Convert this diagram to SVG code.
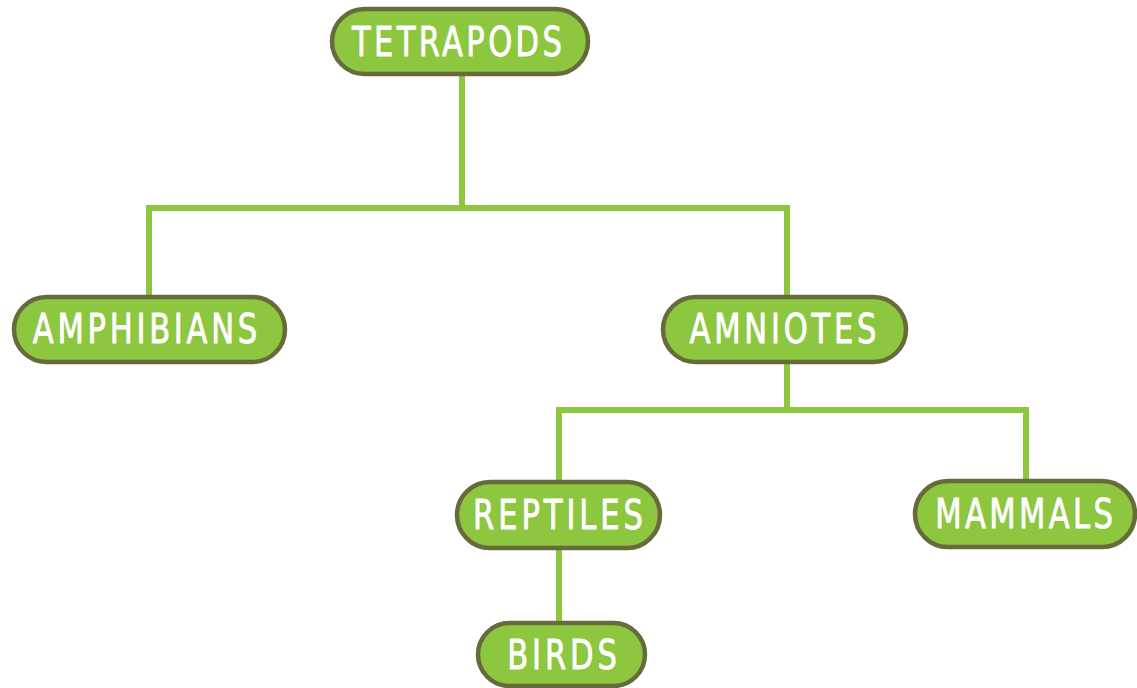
<svg xmlns="http://www.w3.org/2000/svg" width="1137" height="688" viewBox="0 0 1137 688">
<style>
.box{fill:#8dc63f;stroke:#676a3b;stroke-width:4.5}
.lbl{fill:#ffffff;stroke:#ffffff;stroke-width:0.8;font-family:"DejaVu Sans Condensed","DejaVu Sans",sans-serif;font-size:40px;text-anchor:middle}
.ln{fill:none;stroke:#8dc63f;stroke-width:6;stroke-linejoin:miter;stroke-linecap:butt}
</style>
<rect width="1137" height="688" fill="#ffffff"/>
<g id="connectors">
<path class="ln" d="M462,75 V208 M149,297 V208 H787 V297"/>
<path class="ln" d="M787,362 V410 M559,482 V410 H1026 V481"/>
<path class="ln" d="M559,548 V623"/>
</g>
<g id="tetrapods">
<rect class="box" x="332" y="9" width="256" height="65" rx="32.5"/>
<text class="lbl" transform="translate(457,56) scale(0.85,1)" x="0" y="0" textLength="247" lengthAdjust="spacing">TETRAPODS</text>
</g>
<g id="amphibians">
<rect class="box" x="14" y="297" width="271" height="65" rx="32.5"/>
<text class="lbl" transform="translate(145,343) scale(0.85,1)" x="0" y="0" textLength="264" lengthAdjust="spacing">AMPHIBIANS</text>
</g>
<g id="amniotes">
<rect class="box" x="663" y="297" width="243" height="65" rx="32.5"/>
<text class="lbl" transform="translate(783,343) scale(0.85,1)" x="0" y="0" textLength="220" lengthAdjust="spacing">AMNIOTES</text>
</g>
<g id="reptiles">
<rect class="box" x="457" y="482" width="203" height="66" rx="33"/>
<text class="lbl" transform="translate(558,529) scale(0.85,1)" x="0" y="0" textLength="200" lengthAdjust="spacing">REPTILES</text>
</g>
<g id="mammals">
<rect class="box" x="915" y="481" width="220" height="66" rx="33"/>
<text class="lbl" transform="translate(1024,528) scale(0.85,1)" x="0" y="0" textLength="209" lengthAdjust="spacing">MAMMALS</text>
</g>
<g id="birds">
<rect class="box" x="478" y="623" width="167" height="63" rx="31.5"/>
<text class="lbl" transform="translate(562,669) scale(0.85,1)" x="0" y="0" textLength="129" lengthAdjust="spacing">BIRDS</text>
</g>
</svg>
